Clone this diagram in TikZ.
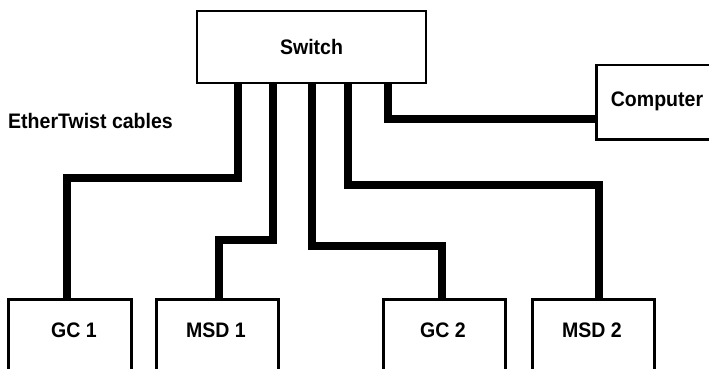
\documentclass[tikz,border=0pt]{standalone}
\usepackage{fontspec}
\setmainfont{Liberation Sans}[FakeStretch=0.93]
\begin{document}
\begin{tikzpicture}[x=1pt,y=-1pt,
  box/.style={draw,line width=2.5pt,rectangle,inner sep=0pt,font=\fontsize{21}{24}\selectfont\bfseries},
  cable/.style={line width=8pt,line join=miter},
  lbl/.style={font=\fontsize{21}{24}\selectfont\bfseries,inner sep=0pt}]
\useasboundingbox (0,0) rectangle (709,369);
\clip (0,0) rectangle (709,369);
\node[box,minimum width=229pt,minimum height=72pt] (sw) at (311.5,47) {Switch};
\node[box,minimum width=124pt,minimum height=74pt,anchor=north west] (cmp) at (595,64) {};
\node[lbl] (cmptxt) at (657,101) {Computer};
\node[box,minimum width=123pt,minimum height=100pt,anchor=north west] (gc1) at (7,298) {};
\node[box,minimum width=122pt,minimum height=100pt,anchor=north west] (msd1) at (155,298) {};
\node[box,minimum width=122pt,minimum height=100pt,anchor=north west] (gc2) at (382,298) {};
\node[box,minimum width=122pt,minimum height=100pt,anchor=north west] (msd2) at (531,298) {};
\node[lbl] (gc1txt) at (74,330) {GC 1};
\node[lbl] (msd1txt) at (216,330) {MSD 1};
\node[lbl] (gc2txt) at (443,330) {GC 2};
\node[lbl] (msd2txt) at (592,330) {MSD 2};
\node[lbl,anchor=west] (eth) at (8,121) {EtherTwist cables};
\coordinate (c1) at (237.5,178);
\coordinate (c2) at (272.5,240);
\coordinate (c3) at (311.5,246);
\coordinate (c4) at (348,185);
\coordinate (c5) at (388,119);
\draw[cable] (c1 |- sw.south) -- (c1) -| ([xshift=-2.5pt]gc1.north);
\draw[cable] (c2 |- sw.south) -- (c2) -| ([xshift=2pt]msd1.north);
\draw[cable] (c3 |- sw.south) -- (c3) -| ([xshift=-2pt]gc2.north);
\draw[cable] (c4 |- sw.south) -- (c4) -| ([xshift=6pt]msd2.north);
\draw[cable] (c5 |- sw.south) -- (c5) -- (c5 -| cmp.west);
\end{tikzpicture}
\end{document}
